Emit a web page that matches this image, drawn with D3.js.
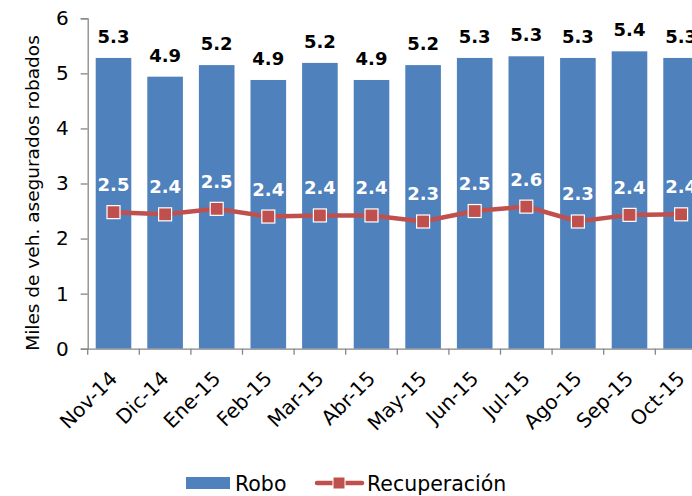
<!DOCTYPE html>
<html><head><meta charset="utf-8">
<script src="https://cdn.jsdelivr.net/npm/d3@7"></script>
<style>
html,body{margin:0;padding:0;background:#fff;}
svg{display:block;}
text{font-family:"Century Gothic","DejaVu Sans",sans-serif;}
</style></head>
<body>
<svg id="chart" width="692" height="496"></svg>
<script>
const categories = ["Nov-14","Dic-14","Ene-15","Feb-15","Mar-15","Abr-15","May-15","Jun-15","Jul-15","Ago-15","Sep-15","Oct-15"];
const robo = [5.28, 4.94, 5.15, 4.88, 5.19, 4.88, 5.15, 5.28, 5.31, 5.28, 5.40, 5.28];
const recuperacion = [2.48, 2.44, 2.54, 2.40, 2.42, 2.42, 2.31, 2.50, 2.58, 2.31, 2.43, 2.44];
const yTicks = [0,1,2,3,4,5,6];
const seriesNames = ["Robo","Recuperación"];
const yTitle = "Miles de veh. asegurados robados";

const svg = d3.select("#chart");
const blue = "#4F81BD", red = "#C0504D", axisCol = "#868686";

const x0 = 87.7, step = 51.6;
const x = d3.scaleBand().domain(categories).range([x0, x0 + step*categories.length]).padding(0);
const y = d3.scaleLinear().domain([0,6]).range([348.7, 18.3]);
const barW = x.bandwidth()*0.69;

// bars
svg.append("g").selectAll("rect").data(robo).join("rect")
  .attr("x",(d,i)=>x(categories[i]) + (x.bandwidth()-barW)/2)
  .attr("y",d=>y(d))
  .attr("width",barW)
  .attr("height",d=>y(0)-y(d))
  .attr("fill",blue);

// y axis
const yAxis = svg.append("g").attr("transform",`translate(${x0},0)`)
  .call(d3.axisLeft(y).tickValues(yTicks).tickFormat(d3.format("d")).tickSize(7).tickPadding(12));
yAxis.select(".domain").attr("stroke",axisCol).attr("stroke-width",1.3);
yAxis.selectAll(".tick line").attr("stroke",axisCol).attr("stroke-width",1.3);
yAxis.selectAll(".tick text").attr("font-size",20).attr("fill","#000")
  .attr("font-family",'"Century Gothic","DejaVu Sans",sans-serif');

// x axis
const xAxis = svg.append("g").attr("transform",`translate(0,${y(0)})`)
  .call(d3.axisBottom(x).tickSize(0).tickFormat(""));
xAxis.select(".domain").attr("stroke",axisCol).attr("stroke-width",1.3);
// category boundary ticks
svg.append("g").selectAll("line").data(categories).join("line")
  .attr("x1",d=>x(d)).attr("x2",d=>x(d))
  .attr("y1",y(0)).attr("y2",y(0)+6)
  .attr("stroke",axisCol).attr("stroke-width",1.3);
svg.append("g").selectAll("text").data(categories).join("text")
  .attr("transform",d=>`translate(${x(d)+x.bandwidth()/2+5},${y(0)+31}) rotate(-45)`)
  .attr("text-anchor","end")
  .attr("font-size",20)
  .attr("fill","#000")
  .text(d=>d);

// y title
svg.append("text")
  .attr("transform",`translate(39,193) rotate(-90)`)
  .attr("text-anchor","middle")
  .attr("font-size",18.5)
  .attr("fill","#000")
  .text(yTitle);

// bar labels
svg.append("g").selectAll("text").data(robo).join("text")
  .attr("x",(d,i)=>x(categories[i])+x.bandwidth()/2)
  .attr("y",d=>y(d)-15)
  .attr("text-anchor","middle")
  .attr("font-size",18).attr("font-weight","bold")
  .attr("fill","#000")
  .text(d=>d.toFixed(1));

// line
const line = d3.line().x((d,i)=>x(categories[i])+x.bandwidth()/2).y(d=>y(d));
svg.append("path").datum(recuperacion)
  .attr("d",line).attr("fill","none").attr("stroke",red).attr("stroke-width",4.5);
const ms = 13;
svg.append("g").selectAll("rect").data(recuperacion).join("rect")
  .attr("x",(d,i)=>x(categories[i])+x.bandwidth()/2-ms/2)
  .attr("y",d=>y(d)-ms/2)
  .attr("width",ms).attr("height",ms)
  .attr("fill",red).attr("stroke","#fff").attr("stroke-width",1.2);
svg.append("g").selectAll("text").data(recuperacion).join("text")
  .attr("x",(d,i)=>x(categories[i])+x.bandwidth()/2)
  .attr("y",d=>y(d)-21)
  .attr("text-anchor","middle")
  .attr("font-size",18).attr("font-weight","bold")
  .attr("fill","#fff")
  .text(d=>d.toFixed(1));

// legend
const lg = svg.append("g");
lg.append("rect").attr("x",186).attr("y",477).attr("width",44).attr("height",12).attr("fill",blue);
lg.append("text").attr("x",235).attr("y",491).attr("font-size",20.5).attr("fill","#000").text(seriesNames[0]);
lg.append("line").attr("x1",317).attr("x2",362).attr("y1",483).attr("y2",483)
  .attr("stroke",red).attr("stroke-width",4.5).attr("stroke-linecap","round");
lg.append("rect").attr("x",339-6).attr("y",483-6).attr("width",12).attr("height",12)
  .attr("fill",red).attr("stroke","#fff").attr("stroke-width",1);
lg.append("text").attr("x",367).attr("y",491).attr("font-size",20.5).attr("fill","#000").text(seriesNames[1]);
</script>
</body></html>
